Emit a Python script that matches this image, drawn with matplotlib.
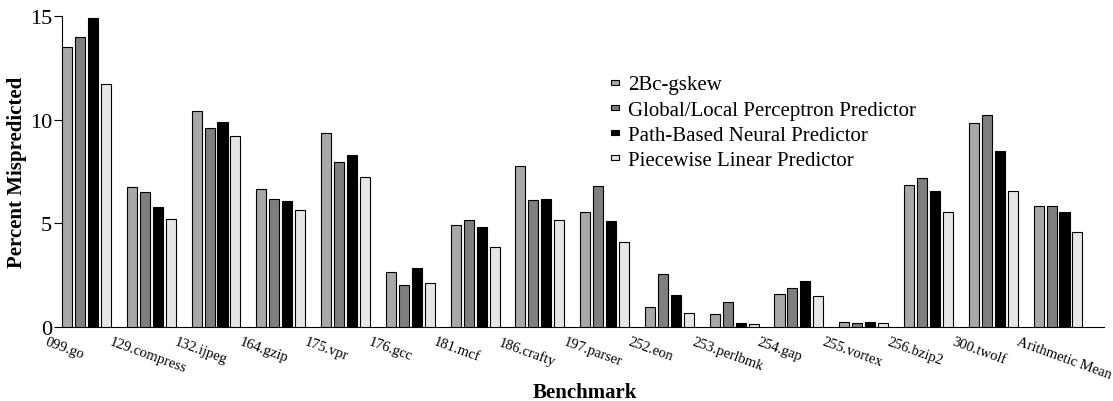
import matplotlib
matplotlib.use("Agg")
import matplotlib.pyplot as plt
from matplotlib.patches import Rectangle, Patch
from matplotlib.legend_handler import HandlerPatch
import numpy as np

plt.rcParams['font.family'] = ['Liberation Serif', 'DejaVu Serif']

benchmarks = ["099.go", "129.compress", "132.ijpeg", "164.gzip", "175.vpr", "176.gcc",
              "181.mcf", "186.crafty", "197.parser", "252.eon", "253.perlbmk", "254.gap",
              "255.vortex", "256.bzip2", "300.twolf", "Arithmetic Mean"]
series_names = ["2Bc-gskew", "Global/Local Perceptron Predictor",
                "Path-Based Neural Predictor", "Piecewise Linear Predictor"]
gskew = [13.49, 6.74, 10.42, 6.67, 9.37, 2.65, 4.93, 7.77, 5.53, 0.96, 0.61, 1.61, 0.24, 6.85, 9.84, 5.84]
perceptron = [14.0, 6.53, 9.60, 6.16, 7.97, 2.03, 5.18, 6.13, 6.82, 2.57, 1.19, 1.90, 0.19, 7.19, 10.21, 5.84]
pathneural = [14.9, 5.77, 9.89, 6.06, 8.31, 2.83, 4.82, 6.17, 5.10, 1.53, 0.18, 2.20, 0.24, 6.54, 8.47, 5.53]
piecewise = [11.74, 5.19, 9.20, 5.63, 7.25, 2.14, 3.86, 5.18, 4.10, 0.68, 0.15, 1.48, 0.18, 5.53, 6.58, 4.60]
colors = ["#a8a8a8", "#7f7f7f", "#000000", "#e6e6e6"]

fig = plt.figure(figsize=(11.13, 4.02), dpi=100)
ax = fig.add_axes([62/1113, 74/402, 1042/1113, 311/402])

x = np.arange(len(benchmarks))
width = 0.155
offsets = [-0.3, -0.1, 0.1, 0.3]
for vals, off, c, name in zip([gskew, perceptron, pathneural, piecewise], offsets, colors, series_names):
    ax.bar(x + off, vals, width, color=c, edgecolor="black", linewidth=0.8, label=name, zorder=3)

ax.set_xlim(-0.378, 15.71)
ax.set_ylim(0, 15)
ax.set_yticks([0, 5, 10, 15])
ax.tick_params(axis='y', labelsize=16, direction='out', length=6, pad=1)
ax.set_xticks([])
for s in ['top', 'right']:
    ax.spines[s].set_visible(False)

trans = matplotlib.transforms.blended_transform_factory(ax.transData, ax.transAxes)
for xi, lab in zip(x, benchmarks):
    ax.text(xi - 0.6, -0.025, lab, transform=trans, rotation=-20, rotation_mode='anchor',
            ha='left', va='top', fontsize=10.5)

ax.set_ylabel("Percent Mispredicted", fontsize=15, fontweight='bold')
ax.yaxis.set_label_coords(-0.0335, 0.5)
fig.text(585/1113, 1 - 393/402, "Benchmark", fontsize=15, fontweight='bold', ha='center', va='center')


def small_rect(legend, orig_handle, xdescent, ydescent, width, height, fontsize):
    w, h = 5.8, 3.6
    cy = -ydescent + height / 2.0
    return Rectangle((-xdescent, cy - h / 2.0), w, h)


proxies = [Patch(facecolor=c, edgecolor="black", linewidth=0.8) for c in colors]
ax.legend(proxies, series_names, loc='upper left', bbox_to_anchor=(0.527, 0.811),
          frameon=False, fontsize=15, borderpad=0,
          handlelength=0.4, handleheight=0.7, handletextpad=0.4, labelspacing=0.27,
          borderaxespad=0, handler_map={Patch: HandlerPatch(patch_func=small_rect)})

fig.savefig("out.png", dpi=100)
